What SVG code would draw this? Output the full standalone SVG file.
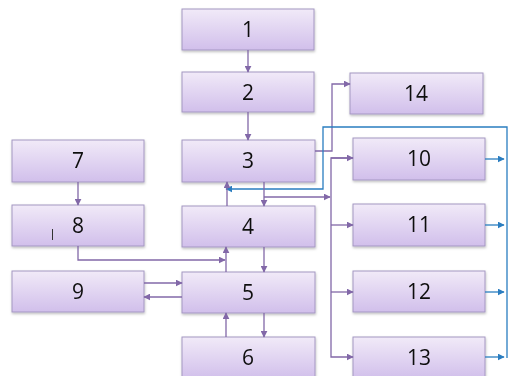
<svg xmlns="http://www.w3.org/2000/svg" width="509" height="376" viewBox="0 0 509 376">
<style>
.box{fill:url(#g);stroke:#a497c2;stroke-width:1}
.t{font-family:"Open Sans","Liberation Sans",sans-serif;font-size:21px;fill:#111;text-anchor:middle}
.p{fill:none;stroke:#8268a8;stroke-width:1.3}
.b{fill:none;stroke:#2a7dc0;stroke-width:1.3}
</style>
<defs>
<linearGradient id="g" x1="0" y1="0" x2="0" y2="1">
<stop offset="0" stop-color="#f1eaf8"/>
<stop offset="1" stop-color="#d1bfeb"/>
</linearGradient>
<filter id="sh" x="-10%" y="-10%" width="120%" height="130%">
<feDropShadow dx="0.5" dy="1.5" stdDeviation="1" flood-color="#000" flood-opacity="0.25"/>
</filter>
<marker id="ap" viewBox="0 0 10 10" refX="9" refY="5" markerWidth="7" markerHeight="7" orient="auto" markerUnits="userSpaceOnUse"><path d="M0,0L10,5L0,10z" fill="#8268a8"/></marker>
<marker id="ab" viewBox="0 0 10 10" refX="9" refY="5" markerWidth="7" markerHeight="7" orient="auto" markerUnits="userSpaceOnUse"><path d="M0,0L10,5L0,10z" fill="#2a7dc0"/></marker>
</defs>
<g filter="url(#sh)">
<g id="n1"><rect class="box" x="182" y="9" width="132" height="41"/><text class="t" x="248" y="37">1</text></g>
<g id="n2"><rect class="box" x="182" y="72" width="132" height="40"/><text class="t" x="248" y="100">2</text></g>
<g id="n3"><rect class="box" x="182" y="140" width="133" height="42"/><text class="t" x="248" y="168">3</text></g>
<g id="n4"><rect class="box" x="182" y="206" width="133" height="41"/><text class="t" x="248" y="234">4</text></g>
<g id="n5"><rect class="box" x="182" y="272" width="133" height="41"/><text class="t" x="248" y="300">5</text></g>
<g id="n6"><rect class="box" x="182" y="337" width="133" height="42"/><text class="t" x="248" y="365">6</text></g>
<g id="n7"><rect class="box" x="12" y="140" width="132" height="42"/><text class="t" x="78" y="168">7</text></g>
<g id="n8"><rect class="box" x="12" y="205" width="132" height="41"/><text class="t" x="78" y="233">8</text><line x1="52.5" y1="229" x2="52.5" y2="240" stroke="#333" stroke-width="1"/></g>
<g id="n9"><rect class="box" x="12" y="271" width="132" height="41"/><text class="t" x="78" y="299">9</text></g>
<g id="n14"><rect class="box" x="350" y="73" width="133" height="41"/><text class="t" x="416" y="101">14</text></g>
<g id="n10"><rect class="box" x="353" y="138" width="132" height="42"/><text class="t" x="419" y="166">10</text></g>
<g id="n11"><rect class="box" x="353" y="204" width="132" height="42"/><text class="t" x="419" y="232">11</text></g>
<g id="n12"><rect class="box" x="353" y="271" width="132" height="41"/><text class="t" x="419" y="299">12</text></g>
<g id="n13"><rect class="box" x="353" y="337" width="132" height="42"/><text class="t" x="419" y="365">13</text></g>
</g>
<g id="connectors">
<path class="p" d="M248,50V72" marker-end="url(#ap)"/>
<path class="p" d="M248,112V140" marker-end="url(#ap)"/>
<path class="p" d="M315,151H332V84H350" marker-end="url(#ap)"/>
<path class="b" d="M507,358V127H323V189H226" marker-end="url(#ab)"/>
<path class="p" d="M264,182V206" marker-end="url(#ap)"/>
<path class="p" d="M264,197H330" marker-end="url(#ap)"/>
<path class="p" d="M353,158H331V357H353" marker-end="url(#ap)"/>
<path class="p" d="M331,225H353" marker-end="url(#ap)"/>
<path class="p" d="M331,292H353" marker-end="url(#ap)"/>
<path class="p" d="M331,158H353" marker-end="url(#ap)"/>
<path class="p" d="M227,206V182" marker-end="url(#ap)"/>
<path class="p" d="M78,182V205" marker-end="url(#ap)"/>
<path class="p" d="M78,246V260H225" marker-end="url(#ap)"/>
<path class="p" d="M226,272V247" marker-end="url(#ap)"/>
<path class="p" d="M264,247V272" marker-end="url(#ap)"/>
<path class="p" d="M144,283H182" marker-end="url(#ap)"/>
<path class="p" d="M182,297H144" marker-end="url(#ap)"/>
<path class="p" d="M226,337V313" marker-end="url(#ap)"/>
<path class="p" d="M264,313V337" marker-end="url(#ap)"/>
<path class="b" d="M485,159H504" marker-end="url(#ab)"/>
<path class="b" d="M485,225H504" marker-end="url(#ab)"/>
<path class="b" d="M485,292H504" marker-end="url(#ab)"/>
<path class="b" d="M485,357H504" marker-end="url(#ab)"/>
</g>
</svg>
